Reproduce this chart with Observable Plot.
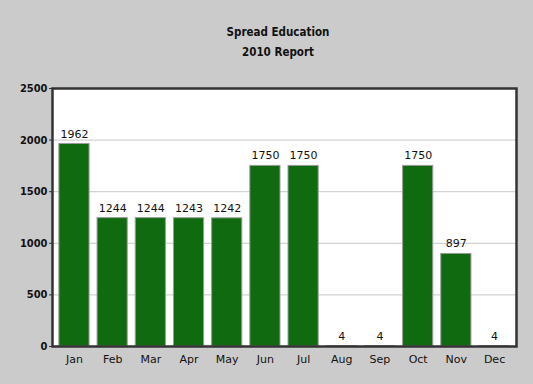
<!DOCTYPE html>
<html>
<head>
<meta charset="utf-8">
<script src="https://cdn.jsdelivr.net/npm/d3@7"></script>
<script src="https://cdn.jsdelivr.net/npm/@observablehq/plot@0.6"></script>
<style>
  html, body { margin: 0; padding: 0; background: #cbcbcb; }
  #wrap { width: 533px; height: 384px; background: #cbcbcb; position: relative; overflow: hidden; font-family: "DejaVu Sans", Verdana, sans-serif; }
  .title { position: absolute; left: 45px; width: 466px; text-align: center; font-weight: bold; font-size: 11.5px; color: #111; font-family: "DejaVu Sans Condensed", "DejaVu Sans", sans-serif; }
  #chart { position: absolute; left: 0; top: 70px; }
</style>
</head>
<body>
<div id="wrap">
  <div class="title" style="top:25px">Spread Education</div>
  <div class="title" style="top:45px">2010 Report</div>
  <div id="chart"></div>
</div>
<script>
const months = ["Jan","Feb","Mar","Apr","May","Jun","Jul","Aug","Sep","Oct","Nov","Dec"];
const values = [1962,1244,1244,1243,1242,1750,1750,4,4,1750,897,4];
const yTicks = [0,500,1000,1500,2000,2500];

const data = months.map((m, i) => ({month: m, value: values[i]}));

const chart = Plot.plot({
  width: 533,
  height: 314,
  marginTop: 18,
  marginBottom: 38,
  marginLeft: 52,
  marginRight: 17,
  style: {background: "transparent", fontFamily: "DejaVu Sans, Verdana, sans-serif", fontSize: "11px", color: "#111"},
  x: {domain: months, paddingInner: 0.21, paddingOuter: 0.18, round: false, label: null},
  y: {domain: [0, 2500], label: null},
  marks: [
    Plot.frame({fill: "white", stroke: null}),
    Plot.gridY(yTicks.filter(d => d > 0 && d < 2500), {stroke: "#c8c8c8", strokeOpacity: 1, strokeWidth: 1}),
    Plot.barY(data, {x: "month", y: "value", fill: "#106b10", stroke: "#9a9a9a", strokeWidth: 1}),
    Plot.text(data, {x: "month", y: "value", text: d => String(d.value), dy: -10, fontSize: 11, fill: "#111"}),
    Plot.frame({stroke: "#333", strokeWidth: 2.5}),
    Plot.axisY(yTicks, {tickSize: 3, tickPadding: 2, tickFormat: d => String(d), fontWeight: "bold", fontSize: 11, fontFamily: "DejaVu Sans Condensed, DejaVu Sans, sans-serif", stroke: "#333", fill: "#111"}),
    Plot.axisX({tickSize: 0, tickPadding: 9, fontSize: 11, fill: "#111"})
  ]
});
document.getElementById("chart").appendChild(chart);
</script>
</body>
</html>
